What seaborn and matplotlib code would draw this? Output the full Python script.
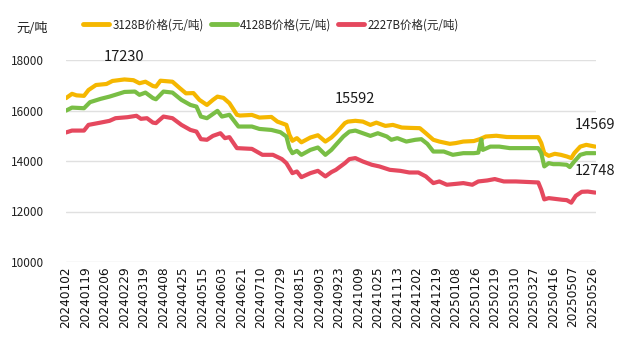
import numpy as np
import pandas as pd
import matplotlib
matplotlib.use("Agg")
import matplotlib.pyplot as plt
import seaborn as sns
from matplotlib.lines import Line2D

# ---------------- data ----------------
tick_labels = ["20240102", "20240119", "20240206", "20240229", "20240319", "20240408",
               "20240425", "20240515", "20240603", "20240621", "20240710", "20240729",
               "20240815", "20240903", "20240923", "20241009", "20241025", "20241113",
               "20241202", "20241219", "20250108", "20250126", "20250219", "20250310",
               "20250327", "20250416", "20250507", "20250526"]
tick_step = 13  # trading days between labelled ticks

series_names = ["3128B价格(元/吨)", "4128B价格(元/吨)", "2227B价格(元/吨)"]

days_3128 = [0, 4, 7, 12, 15, 20, 27, 31, 39, 45, 49, 53, 58, 60, 63, 71, 76, 80, 85, 89,
             94, 98, 101, 105, 109, 114, 116, 124, 129, 137, 141, 147, 149, 151, 154, 157,
             163, 168, 173, 177, 180, 186, 188, 193, 198, 203, 207, 213, 218, 224, 230,
             236, 240, 245, 249, 256, 260, 265, 272, 276, 280, 287, 294, 303, 315, 317,
             319, 322, 326, 330, 334, 337, 339, 343, 347, 353]
vals_3128 = [16490, 16660, 16600, 16580, 16810, 17010, 17050, 17170, 17230, 17200, 17080,
             17140, 16970, 16945, 17180, 17140, 16880, 16680, 16690, 16420, 16220, 16420,
             16550, 16500, 16290, 15830, 15800, 15825, 15720, 15745, 15560, 15430, 15035,
             14800, 14905, 14740, 14930, 15020, 14770, 14930, 15100, 15500, 15560, 15592,
             15560, 15430, 15520, 15390, 15430, 15325, 15310, 15300, 15100, 14840, 14770,
             14680, 14710, 14770, 14790, 14865, 14970, 15000, 14950, 14945, 14945, 14710,
             14310, 14205, 14285, 14245, 14180, 14115, 14310, 14570, 14640, 14569]

days_4128 = [0, 4, 12, 16, 23, 29, 35, 39, 46, 49, 53, 58, 60, 65, 71, 77, 83, 87, 90, 94,
             101, 104, 109, 115, 124, 129, 137, 143, 147, 149, 151, 154, 157, 163, 168, 173,
             177, 180, 185, 189, 193, 198, 203, 208, 214, 217, 221, 227, 233, 237, 241, 245,
             252, 258, 265, 272, 275, 277, 278, 283, 289, 296, 305, 315, 317, 319, 322, 325,
             329, 334, 336, 339, 343, 347, 353]
vals_4128 = [15995, 16115, 16090, 16330, 16460, 16550, 16660, 16735, 16750, 16620, 16710,
             16490, 16445, 16750, 16710, 16420, 16220, 16155, 15760, 15695, 15985, 15760,
             15830, 15365, 15365, 15270, 15230, 15140, 14970, 14510, 14310, 14400, 14245,
             14440, 14535, 14245, 14440, 14640, 14970, 15165, 15205, 15100, 14995, 15100,
             14970, 14840, 14905, 14770, 14840, 14865, 14680, 14375, 14375, 14245, 14310,
             14310, 14330, 14850, 14440, 14570, 14570, 14510, 14510, 14510, 14310, 13785,
             13915, 13875, 13875, 13850, 13760, 13980, 14245, 14310, 14310]

days_2227 = [0, 4, 12, 15, 23, 29, 33, 41, 47, 50, 54, 58, 60, 65, 71, 77, 83, 87, 90, 94,
             98, 103, 106, 109, 114, 124, 131, 138, 144, 147, 151, 154, 157, 163, 168, 173,
             177, 180, 186, 189, 193, 198, 204, 209, 216, 223, 229, 235, 240, 245, 249, 254,
             261, 265, 271, 275, 281, 286, 292, 300, 315, 317, 319, 322, 331, 334, 337, 340,
             344, 348, 353]
vals_2227 = [15130, 15205, 15205, 15430, 15520, 15590, 15695, 15735, 15790, 15670, 15695,
             15520, 15500, 15760, 15695, 15430, 15230, 15165, 14865, 14840, 14995, 15100,
             14905, 14945, 14510, 14480, 14245, 14245, 14075, 13915, 13520, 13585, 13360,
             13520, 13610, 13390, 13560, 13650, 13915, 14075, 14115, 13980, 13850, 13785,
             13650, 13610, 13545, 13545, 13390, 13125, 13190, 13060, 13100, 13125, 13060,
             13190, 13230, 13285, 13190, 13190, 13150, 12860, 12480, 12530, 12465, 12450,
             12350, 12620, 12780, 12790, 12748]

colors = ["#F5B700", "#79BE45", "#E5485E"]

# ---------------- build frame ----------------
frames = []
for name, d, v in zip(series_names,
                      [days_3128, days_4128, days_2227],
                      [vals_3128, vals_4128, vals_2227]):
    frames.append(pd.DataFrame({"day": d, "price": v, "series": name}))
df = pd.concat(frames, ignore_index=True)

# ---------------- style ----------------
sns.set_style("white")
plt.rcParams["font.family"] = ["Noto Sans CJK SC", "DejaVu Sans"]

fig = plt.figure(figsize=(6.38, 3.42), dpi=100)
ax = fig.add_axes([66 / 638, 1 - 262 / 342, (596 - 66) / 638, (262 - 60) / 342])

sns.lineplot(data=df, x="day", y="price", hue="series", hue_order=series_names,
             palette=colors, linewidth=3, estimator=None, sort=False, ax=ax, legend=False)

ax.set_xlim(0, 353.5)
ax.set_ylim(10000, 18000)
ax.set_yticks(np.arange(10000, 18001, 2000))
ax.set_xticks(np.arange(len(tick_labels)) * tick_step)
ax.set_xticklabels(tick_labels, rotation=90, fontsize=8.7,
                   family=["DejaVu Sans"], color="#111111")
for lab in ax.get_yticklabels():
    lab.set_fontsize(8.5)
    lab.set_color("#222222")
ax.tick_params(axis="both", length=0)
ax.tick_params(axis="y", pad=16)
ax.tick_params(axis="x", pad=3)
ax.grid(axis="y", color="#E0E0E0", linewidth=1)
ax.grid(axis="x", visible=False)
for sp in ax.spines.values():
    sp.set_visible(False)
ax.set_xlabel("")
ax.set_ylabel("")

# unit label
fig.text(16 / 638, 1 - 29 / 342, "元/吨", fontsize=9.5, ha="left", va="center",
         color="#222222")

# legend
handles = [Line2D([0], [0], color=c, linewidth=3.5) for c in colors]
fig.legend(handles, series_names, loc="center", bbox_to_anchor=(271 / 638, 1 - 25 / 342),
           ncol=3, frameon=False, fontsize=8.3, handlelength=2.25, handletextpad=0.3,
           columnspacing=0.6)

# data labels
y3128 = np.array(vals_3128)
d3128 = np.array(days_3128)
i_max = int(np.argmax(y3128))
late = d3128 > 150
i_late = int(np.where(late)[0][np.argmax(y3128[late])])
labels = [(d3128[i_max], y3128[i_max]), (d3128[i_late], y3128[i_late]),
          (days_3128[-1], vals_3128[-1]), (days_2227[-1], vals_2227[-1])]
for dx, vy in labels:
    ax.annotate(f"{vy}", xy=(dx, vy), xytext=(0, 22), textcoords="offset pixels",
                ha="center", va="center", fontsize=10.5, color="#1a1a1a",
                annotation_clip=False)

fig.savefig("out.png", dpi=100)
